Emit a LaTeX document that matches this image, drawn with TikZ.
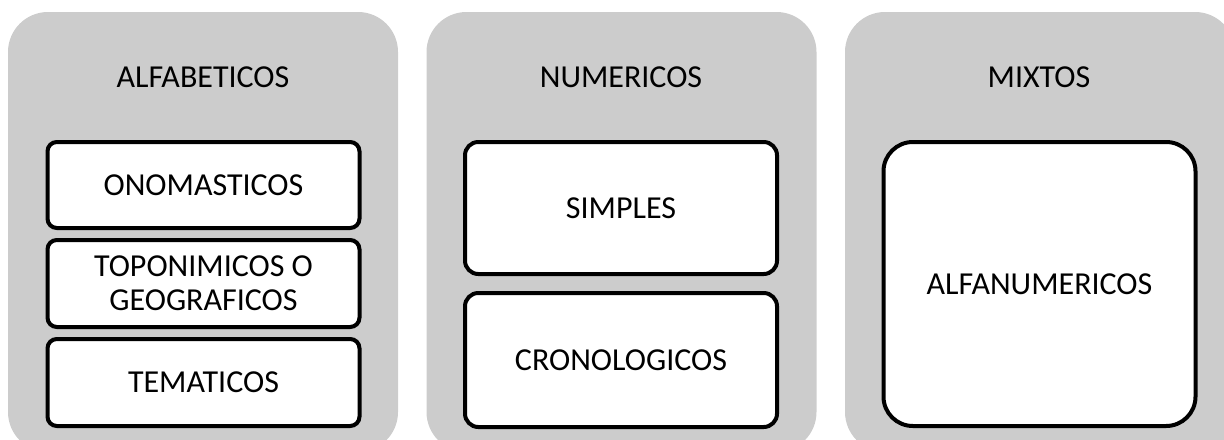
\documentclass[tikz,border=0pt]{standalone}
\usepackage{fontspec}
\setmainfont{Carlito}
\begin{document}
\begin{tikzpicture}[x=0.75pt,y=-0.75pt,
  panel/.style={fill=panelgray,draw=none,rounded corners=30pt,minimum width=292.5pt,minimum height=330pt,inner sep=0pt},
  title/.style={font=\fontsize{24}{25.5}\selectfont,text=black,inner sep=0pt},
  itembox/.style={draw=black,fill=white,line width=3pt,rounded corners=#1,minimum width=234pt,align=center,
    font=\fontsize{24}{25.5}\selectfont,inner sep=0pt},
  itembox/.default=7pt]
\definecolor{panelgray}{HTML}{CCCCCC}
\useasboundingbox (0,0) rectangle (1224,439);
\clip (0,0) rectangle (1224,439);
% panels
\node[panel] (p1) at (203,232) {};
\node[panel] (p2) at (621.5,232) {};
\node[panel] (p3) at (1040,232) {};
% titles
\node[title] (t1) at (203,77) {ALFABETICOS};
\node[title] (t2) at (621,77) {NUMERICOS};
\node[title] (t3) at (1039,77) {MIXTOS};
% panel 1 items
\node[itembox, minimum height=64.5pt] (a1) at (203.5,185) {ONOMASTICOS};
\node[itembox, minimum height=65.25pt] (a2) at (203.5,283.5) {TOPONIMICOS O\\GEOGRAFICOS};
\node[itembox, minimum height=65.25pt] (a3) at (203.5,382.5) {TEMATICOS};
% panel 2 items
\node[itembox=10pt, minimum height=99pt] (b1) at (621,208) {SIMPLES};
\node[itembox=10pt, minimum height=100.5pt] (b2) at (621,360) {CRONOLOGICOS};
% panel 3 items
\node[itembox=22pt, minimum height=213pt] (c1) at (1039.5,284) {ALFANUMERICOS};
\end{tikzpicture}
\end{document}
